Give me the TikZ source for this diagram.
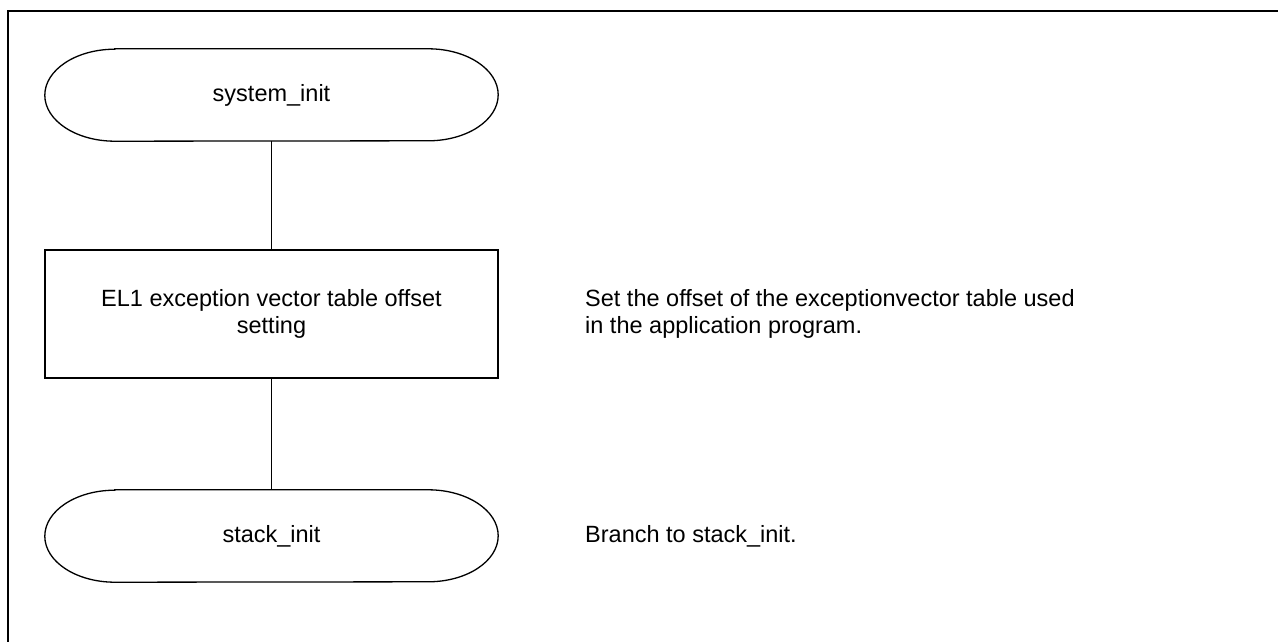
\documentclass[tikz,border=0pt]{standalone}
\usepackage{fontspec}
\setmainfont{Liberation Sans}
\begin{document}
\begin{tikzpicture}[x=1pt,y=-1pt,
  txt/.style={font=\fontsize{23.5}{27}\selectfont, inner sep=0pt},
  termbox/.style={txt, draw=none, minimum width=453pt, minimum height=92pt},
  procbox/.style={txt, draw, line width=1.3pt, minimum width=453pt, minimum height=128pt, align=center},
  conn/.style={line width=1.3pt},
  frame/.style={line width=2pt},
  note/.style={txt, anchor=west, align=left}
]
\useasboundingbox (0,0) rectangle (1278,642);
% frame (top and left edges only)
\coordinate (fTR) at (1279,11);
\coordinate (fTL) at (8,11);
\coordinate (fBL) at (8,643);
\draw[frame] (fTR) -- (fTL) -- (fBL);

% nodes
\node[termbox] (t1) at (271.5,95) {system\_init};
\node[procbox] (p1) at (271.5,314) {EL1 exception vector table offset\\setting};
\node[termbox] (t2) at (271.5,536) {stack\_init};

% terminator outlines
\foreach \n in {t1,t2}{
  \draw[conn] ([xshift=70pt]\n.north west) -- ([xshift=-70pt]\n.north east)
    arc[start angle=90,end angle=-90,x radius=70pt,y radius=46pt]
    -- ([xshift=70pt]\n.south west)
    arc[start angle=270,end angle=90,x radius=70pt,y radius=46pt] -- cycle;
}

% connectors
\draw[conn] (t1.south) -- (p1.north);
\draw[conn] (p1.south) -- (t2.north);

% annotations
\node[note] (n1) at (585,314) {Set the offset of the exceptionvector table used\\in the application program.};
\node[note] (n2) at (585,536) {Branch to stack\_init.};
\end{tikzpicture}
\end{document}
